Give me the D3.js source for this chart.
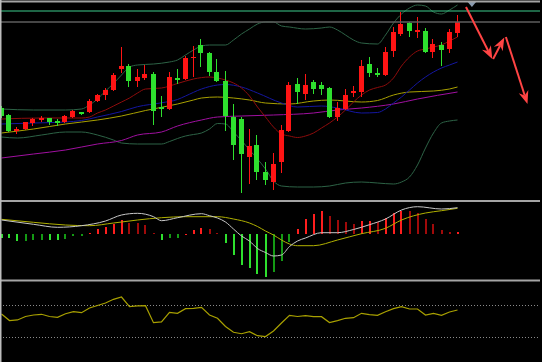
<!DOCTYPE html>
<html lang="en">
<head>
<meta charset="UTF-8">
<title>K-line chart</title>
<script src="https://cdnjs.cloudflare.com/ajax/libs/d3/7.8.5/d3.min.js"></script>
<style>
  html, body { margin: 0; padding: 0; background: #000; }
  svg { display: block; }
</style>
</head>
<body>
<div id="chart"></div>
<script>
// candles, one per trading day
const opens  = [19.2,18.5,16.95,17.1,17.7,18.0,18.2,17.9,17.8,18.3,18.8,18.8,19.9,20.5,21.0,23.1,23.4,21.9,22.2,22.6,19.3,19.1,22.2,22.1,24.2,25.55,24.7,22.85,21.95,18.3,18.1,14.3,15.5,12.8,11.8,13.8,16.9,21.6,20.6,21.8,21.5,21.2,18.3,19.1,20.7,20.8,23.6,22.7,22.5,24.9,26.6,27.7,26.9,26.9,24.8,25.5,25.1,26.7];
const highs  = [19.4,18.6,17.3,17.85,18.2,18.4,18.25,18.1,18.5,19.0,18.85,20.1,20.6,21.2,22.7,25.3,23.65,23.1,23.5,22.8,20.45,22.8,23.1,24.4,25.45,26.1,24.8,24.1,22.9,19.65,18.3,17.1,16.5,13.8,14.7,17.5,21.8,22.2,22.6,22.0,21.8,21.3,19.8,21.1,21.4,24.0,24.3,23.2,25.3,27.3,28.8,27.8,28.3,27.2,26.1,25.8,27.1,28.5];
const lows   = [18.2,16.8,16.6,17.0,17.4,17.8,17.5,17.4,17.7,18.2,18.55,18.7,19.8,20.0,20.9,22.7,21.3,21.3,22.0,17.5,18.3,19.0,21.6,22.0,22.35,23.3,22.4,21.8,16.9,14.0,10.7,11.6,12.0,11.5,11.0,12.7,16.8,19.6,20.0,20.6,20.5,18.25,17.9,19.0,20.3,20.3,22.3,22.3,22.4,24.3,26.4,26.3,26.2,24.7,24.2,23.4,24.7,26.3];
const closes = [18.4,16.9,17.1,17.8,18.1,18.2,17.8,17.7,18.4,18.9,18.6,19.9,20.5,21.0,22.5,23.4,21.9,22.3,22.6,18.9,19.1,22.3,22.0,24.25,24.35,24.7,22.8,21.9,18.4,15.5,14.6,15.4,12.8,12.0,13.6,17.0,21.5,20.8,21.5,21.1,21.1,18.3,19.2,20.55,20.9,23.4,22.7,22.5,24.8,26.8,27.6,26.9,27.0,24.8,25.6,25.0,26.8,27.8];

// overlays read at [day index, price]
const bollUpper = [[0,19.1],[4,19.0],[8,19.0],[10,19.1],[11,19.5],[12,20.1],[13,20.9],[14,21.65],[15,22.5],[16,23.3],[17,23.5],[19,23.6],[21,23.8],[22,24.0],[23,24.5],[24,25.0],[25,25.4],[26,25.5],[28,25.5],[29,26.0],[30,26.6],[31,27.1],[32,27.6],[33,27.8],[34,27.8],[35,27.4],[36,27.3],[38,27.1],[40,27.2],[41,27.3],[42,27.0],[43,26.5],[44,26.0],[45,25.7],[47,25.6],[48,26.5],[49,27.7],[50,28.6],[51,29.2],[52,29.5],[53,29.4],[54,28.8],[55,28.6],[56,29.0],[57,29.5]];
const bollLower = [[0,16.3],[2,16.2],[5,16.5],[8,16.8],[10,16.8],[12,16.5],[14,16.0],[15,15.7],[17,15.6],[20,15.6],[21,15.85],[22,16.15],[23,16.4],[24,16.55],[25,16.7],[26,17.1],[27,17.65],[28,17.6],[29,16.8],[30,15.95],[31,15.0],[32,14.1],[33,13.1],[34,11.9],[35,11.4],[37,11.3],[39,11.3],[41,11.4],[43,11.7],[45,11.8],[47,11.7],[49,11.6],[50,11.8],[51,12.3],[52,13.5],[53,15.2],[54,16.7],[55,17.7],[56,17.9],[57,18.0]];
const ma10 = [[0,18.1],[5,18.2],[10,18.2],[11,18.3],[12,18.7],[13,19.0],[14,19.4],[15,19.8],[16,20.2],[17,20.7],[18,21.1],[20,21.2],[22,21.65],[24,22.1],[26,22.3],[27,22.2],[28,22.0],[29,21.7],[30,21.2],[31,20.4],[32,19.3],[33,18.3],[34,17.3],[35,16.6],[36,16.4],[37,16.25],[38,16.4],[39,16.7],[40,17.2],[41,17.7],[42,18.3],[43,19.0],[44,19.8],[45,20.5],[46,21.0],[47,21.25],[48,21.5],[49,22.2],[50,23.4],[51,24.3],[52,24.9],[53,25.1],[54,25.3],[55,25.5],[56,25.9],[57,26.3]];
const ma20 = [[0,17.6],[4,17.7],[8,17.8],[10,17.95],[12,18.3],[15,18.85],[17,19.33],[20,19.72],[22,20.05],[23,20.4],[25,21.1],[27,21.5],[28,21.55],[30,21.3],[32,20.7],[35,19.7],[37,19.3],[40,19.4],[42,19.2],[45,18.7],[47,18.75],[48,19.1],[49,19.7],[50,20.3],[51,21.0],[52,21.7],[53,22.3],[54,22.8],[55,23.2],[56,23.5],[57,23.8]];
const ma30 = [[0,16.7],[4,17.1],[8,17.6],[12,18.0],[15,18.4],[18,18.95],[22,19.6],[24,20.0],[25,20.2],[27,20.3],[29,20.2],[31,20.0],[33,19.7],[36,19.6],[39,19.9],[41,20.0],[45,19.8],[47,19.95],[49,20.5],[51,20.8],[54,20.9],[56,21.1],[57,21.3]];
const ma60 = [[0,14.2],[4,14.6],[8,15.0],[12,15.6],[15,15.95],[17,16.5],[20,16.8],[22,17.4],[25,18.0],[27,18.3],[30,18.4],[34,18.5],[39,18.7],[42,19.0],[45,19.2],[49,19.6],[52,20.1],[57,20.8]];
const priceLines = [28.9, 27.8];

// MACD
const macdHist = [-0.35,-0.40,-0.67,-0.63,-0.60,-0.53,-0.53,-0.53,-0.43,-0.20,-0.17,0.17,0.50,0.70,1.00,1.43,1.17,1.13,0.93,0.13,-0.53,-0.40,-0.33,0.07,0.43,0.67,0.50,0.17,-0.83,-2.07,-3.07,-3.40,-3.97,-4.23,-3.80,-2.63,-0.80,0.53,1.53,2.03,2.33,1.83,1.43,1.23,1.00,1.33,1.37,1.20,1.60,2.10,2.33,2.32,2.17,1.50,1.00,0.43,0.23,0.27];
const macdDif = [[0,1.43],[4,1.0],[7,0.7],[10,0.86],[13,1.33],[15,1.93],[17,2.1],[19,1.76],[20,1.36],[22,1.66],[25,2.06],[26,1.86],[27,1.63],[28,1.23],[29,0.53],[30,-0.17],[31,-0.67],[32,-1.42],[33,-1.82],[34,-2.17],[35,-2.07],[36,-1.22],[37,-0.67],[38,-0.37],[40,0.16],[42,0.16],[44,0.48],[46,0.96],[48,1.53],[50,2.43],[52,2.76],[55,2.53],[57,2.66]];
const macdDea = [[0,1.5],[4,1.2],[8,0.93],[11,0.86],[14,1.13],[17,1.43],[20,1.66],[23,1.76],[27,1.76],[29,1.53],[31,1.13],[32,0.78],[33,0.33],[34,-0.07],[35,-0.57],[36,-0.97],[37,-1.14],[39,-1.14],[42,-0.57],[45,0.06],[48,0.6],[50,1.43],[53,2.13],[55,2.36],[57,2.6]];

// RSI
const rsi = [58.8,50.6,51.3,55.6,57.5,58.4,55.6,54.6,59.1,61.6,60.4,66.3,69.4,72.5,77.1,80.0,68.1,68.8,69.1,47.9,48.8,60.9,59.6,65.4,65.9,67.1,57.5,53.4,43.1,35.9,34.1,36.6,31.6,30.6,37.5,47.5,57.1,55.6,56.6,55.4,55.4,48.1,50.4,53.4,54.1,59.6,57.9,57.1,61.6,65.4,67.9,65.0,65.0,57.5,59.6,57.1,61.3,63.8];
const rsiLevels = [70, 30];

// forecast arrows drawn in [day index, price]
const arrows = [
  [[58.06, 29.3], [61.35, 24.1]],
  [[61.45, 24.1], [62.85, 26.25]],
  [[63.05, 26.3], [65.75, 19.6]]
];
const markerIdx = 58.8;

const W = 542, H = 362, right = 540;
const svg = d3.select("#chart").append("svg").attr("width", W).attr("height", H);
svg.append("rect").attr("width", W).attr("height", H).attr("fill", "#000");

const defs = svg.append("defs");
function clip(id, y0, y1) {
  defs.append("clipPath").attr("id", id).append("rect")
    .attr("x", 0).attr("y", y0).attr("width", right).attr("height", y1 - y0);
}
clip("cMain", 3, 200);
clip("cMacd", 202, 279);
clip("cRsi", 282, 362);

const x = d3.scaleLinear().domain([0, 57]).range([1.5, 457.5]);
const y = d3.scaleLinear().domain([10, 30]).range([200, 0]);
const yM = d3.scaleLinear().domain([-4.57, 3.33]).range([280, 201]);
const yR = d3.scaleLinear().domain([0, 100]).range([361, 281]);

const candles = opens.map((o, i) => ({ i, o, h: highs[i], l: lows[i], c: closes[i] }));

// main panel
const main = svg.append("g").attr("clip-path", "url(#cMain)");

function overlay(g, pts, sy, color, curve) {
  g.append("path").datum(pts)
    .attr("fill", "none").attr("stroke", color).attr("stroke-width", 1)
    .attr("d", d3.line().x(d => x(d[0])).y(d => sy(d[1])).curve(curve || d3.curveMonotoneX));
}
overlay(main, bollUpper, y, "#2d6346");
overlay(main, bollLower, y, "#2d6346");
overlay(main, ma60, y, "#a010a0");
overlay(main, ma30, y, "#a8a000");
overlay(main, ma20, y, "#1416a0");
overlay(main, ma10, y, "#8e0c0c");

const up = "#ff1414", down = "#2ee02e";
const cg = main.selectAll("g.candle").data(candles).enter().append("g")
  .attr("shape-rendering", "crispEdges");
cg.append("rect")
  .attr("x", d => Math.round(x(d.i)) - 1).attr("width", 1)
  .attr("y", d => y(d.h)).attr("height", d => y(d.l) - y(d.h))
  .attr("fill", d => d.c >= d.o ? up : down);
cg.append("rect")
  .attr("x", d => Math.round(x(d.i)) - 3).attr("width", 5)
  .attr("y", d => y(Math.max(d.o, d.c)))
  .attr("height", d => Math.max(1.5, Math.abs(y(d.o) - y(d.c))))
  .attr("fill", d => d.c >= d.o ? up : down);

// price reference lines
svg.append("line").attr("x1", 0).attr("x2", right)
  .attr("y1", y(priceLines[0])).attr("y2", y(priceLines[0]))
  .attr("stroke", "#3ccc8c").attr("stroke-width", 1);
svg.append("line").attr("x1", 0).attr("x2", right)
  .attr("y1", y(priceLines[1])).attr("y2", y(priceLines[1]))
  .attr("stroke", "#5e5e5e").attr("stroke-width", 1.5);

// arrows
const arrowColor = "#ff4444";
arrows.forEach(a => {
  const [p0, p1] = a.map(p => [x(p[0]), y(p[1])]);
  const ang = Math.atan2(p1[1] - p0[1], p1[0] - p0[0]);
  const len = 13, half = 5;
  const cx = Math.cos(ang), cy = Math.sin(ang);
  const bx = p1[0] - len * cx, by = p1[1] - len * cy;
  const nx = -cy, ny = cx;
  svg.append("line").attr("x1", p0[0]).attr("y1", p0[1])
    .attr("x2", bx + 4 * cx).attr("y2", by + 4 * cy)
    .attr("stroke", arrowColor).attr("stroke-width", 2);
  svg.append("path")
    .attr("d", `M${p1[0]},${p1[1]}L${bx + nx * half},${by + ny * half}L${bx + cx * 4},${by + cy * 4}L${bx - nx * half},${by - ny * half}Z`)
    .attr("fill", arrowColor);
});

// small marker at the top
const mx = x(markerIdx);
svg.append("path").attr("d", `M${mx - 5},1L${mx + 5},1L${mx},7Z`).attr("fill", "#8a9aae");

// MACD panel
const macd = svg.append("g").attr("clip-path", "url(#cMacd)");
macd.selectAll("rect").data(macdHist).enter().append("rect")
  .attr("shape-rendering", "crispEdges")
  .attr("x", (d, i) => Math.round(x(i)) - 1).attr("width", 2)
  .attr("y", d => Math.min(yM(d), yM(0)))
  .attr("height", d => Math.max(1, Math.abs(yM(d) - yM(0))))
  .attr("fill", (d, i) => {
    const prev = i > 0 ? macdHist[i - 1] : d;
    if (d >= 0) return d >= prev ? "#ff1e1e" : "#a00a0a";
    return d <= prev ? "#2ee02e" : "#149a14";
  });
overlay(macd, macdDea, yM, "#b0b000");
overlay(macd, macdDif, yM, "#c8c8c8");

// RSI panel
const low = svg.append("g").attr("clip-path", "url(#cRsi)");
rsiLevels.forEach(v => {
  low.append("line").attr("x1", 0).attr("x2", right)
    .attr("y1", Math.round(yR(v)) + 0.5).attr("y2", Math.round(yR(v)) + 0.5)
    .attr("stroke", "#8a8a8a").attr("stroke-width", 1).attr("stroke-dasharray", "1,2");
});
low.append("path").datum(rsi)
  .attr("fill", "none").attr("stroke", "#a8a000").attr("stroke-width", 1.2)
  .attr("d", d3.line().x((d, i) => x(i)).y(d => yR(d)));

// panel borders
[[1.5, 2], [201, 2], [280.5, 2]].forEach(([yy, w]) => {
  svg.append("line").attr("x1", 0).attr("x2", right).attr("y1", yy).attr("y2", yy)
    .attr("stroke", "#a4a4a4").attr("stroke-width", w);
});
svg.append("line").attr("x1", 0.75).attr("x2", 0.75).attr("y1", 0).attr("y2", H)
  .attr("stroke", "#bdbdbd").attr("stroke-width", 1.5);
</script>
</body>
</html>
